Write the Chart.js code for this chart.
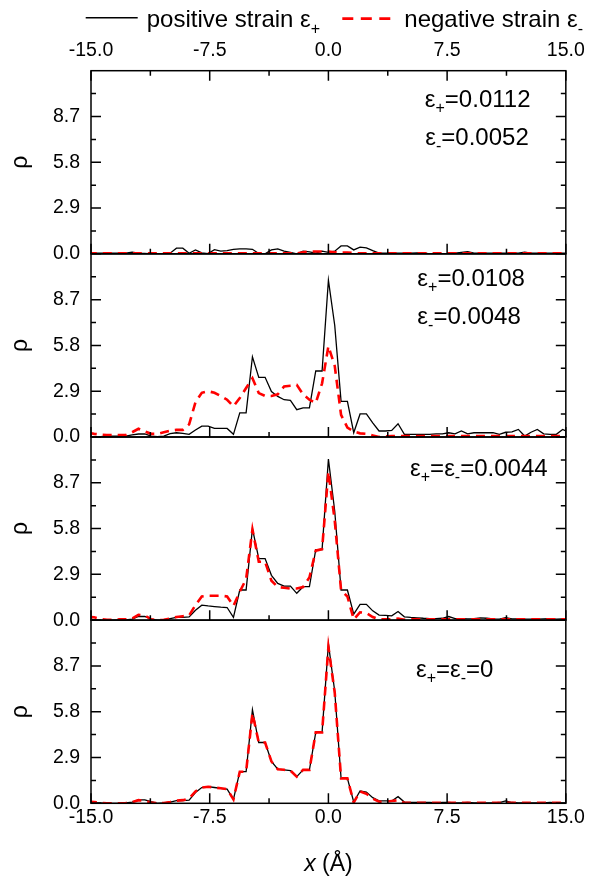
<!DOCTYPE html>
<html>
<head>
<meta charset="utf-8">
<style>
html,body{margin:0;padding:0;background:#fff;}
canvas{display:block;}
</style>
<script src="https://cdn.jsdelivr.net/npm/chart.js@4.4.1/dist/chart.umd.min.js"></script>
</head>
<body>
<canvas id="c" width="593" height="876" style="width:593px;height:876px"></canvas>
<script>
// ---------------- data ----------------
const X = [-15.2,-14.8,-14.4,-14.0,-13.6,-13.2,-12.8,-12.4,-12.0,-11.6,
           -11.2,-10.8,-10.4,-10.0,-9.6,-9.2,-8.8,-8.4,-8.0,-7.6,
           -7.2,-6.8,-6.4,-6.0,-5.6,-5.2,-4.8,-4.4,-4.0,-3.6,
           -3.2,-2.8,-2.4,-2.0,-1.6,-1.2,-0.8,-0.4,0.0,0.4,
           0.8,1.2,1.6,2.0,2.4,2.8,3.2,3.6,4.0,4.4,
           4.8,5.2,5.6,6.0,6.4,6.8,7.2,7.6,8.0,8.4,
           8.8,9.2,9.6,10.0,10.4,10.8,11.2,11.6,12.0,12.4,
           12.8,13.2,13.6,14.0,14.4,14.8,15.2];

// panel 1: eps+ = 0.0112, eps- = 0.0052
const pos1 = [0.04,0.04,0.04,0.04,0.04,0.04,0.04,0.10,0.04,0.03,
              0.00,0.02,0.02,0.04,0.36,0.36,0.04,0.25,0.06,0.02,
              0.27,0.17,0.20,0.29,0.32,0.32,0.29,0.02,0.00,0.25,
              0.32,0.17,0.10,0.00,0.17,0.12,0.05,0.17,0.10,0.17,
              0.50,0.50,0.25,0.42,0.38,0.20,0.04,0.04,0.04,0.04,
              0.04,0.04,0.06,0.06,0.00,0.02,0.02,0.02,0.04,0.10,
              0.14,0.04,0.04,0.04,0.04,0.04,0.04,0.04,0.04,0.10,
              0.04,0.04,0.04,0.04,0.04,0.04,0.04];
const neg1 = [0.03,0.03,0.03,0.03,0.03,0.03,0.03,0.03,0.03,0.03,
              0.03,0.03,0.03,0.03,0.03,0.03,0.03,0.03,0.03,0.03,
              0.03,0.03,0.03,0.03,0.03,0.03,0.03,0.03,0.03,0.03,
              0.03,0.03,0.03,0.03,0.10,0.15,0.15,0.15,0.15,0.10,
              0.08,0.08,0.06,0.03,0.03,0.03,0.03,0.03,0.03,0.03,
              0.03,0.03,0.03,0.03,0.03,0.03,0.03,0.03,0.03,0.03,
              0.03,0.03,0.03,0.03,0.03,0.03,0.03,0.03,0.03,0.03,
              0.03,0.03,0.03,0.03,0.03,0.03,0.03];

// panel 2: eps+ = 0.0108, eps- = 0.0048
const pos2 = [0.03,0.03,0.03,0.05,0.05,0.06,0.06,0.13,0.19,0.19,
              0.06,0.02,0.06,0.21,0.27,0.23,0.17,0.44,0.69,0.69,
              0.54,0.54,0.54,0.17,1.53,1.53,5.08,3.78,3.78,2.88,
              2.57,2.36,2.32,1.73,1.84,1.84,4.18,4.18,9.93,7.06,
              2.26,2.26,0.27,1.46,1.46,0.90,0.38,0.38,0.42,0.84,
              0.17,0.17,0.17,0.17,0.17,0.20,0.20,0.27,0.20,0.38,
              0.20,0.27,0.27,0.27,0.27,0.17,0.30,0.33,0.48,0.06,
              0.30,0.48,0.20,0.17,0.17,0.48,0.30];
const neg2 = [0.27,0.20,0.15,0.13,0.13,0.13,0.13,0.30,0.52,0.35,
              0.20,0.20,0.30,0.40,0.45,0.45,0.80,2.20,2.80,2.90,
              2.80,2.60,2.36,1.94,2.47,3.10,3.72,2.78,2.60,2.60,
              2.70,3.20,3.25,3.30,2.70,2.36,2.15,3.40,5.75,4.50,
              1.40,0.60,0.35,0.23,0.20,0.10,0.00,0.05,0.06,0.06,
              0.06,0.06,0.06,0.06,0.06,0.06,0.06,0.06,0.06,0.06,
              0.06,0.06,0.06,0.06,0.06,0.06,0.06,0.06,0.06,0.06,
              0.06,0.06,0.06,0.06,0.06,0.06,0.06];

// panel 3: eps+ = eps- = 0.0044
const pos3 = [0.05,0.03,0.00,0.00,0.00,0.02,0.02,0.06,0.23,0.23,
              0.06,0.00,0.00,0.10,0.17,0.17,0.21,0.63,0.95,0.90,
              0.86,0.82,0.80,0.17,1.91,1.91,5.80,3.90,3.90,2.84,
              2.33,2.16,2.16,1.70,2.12,2.12,4.47,4.47,10.20,6.90,
              1.91,1.91,0.38,1.00,1.00,0.59,0.32,0.30,0.27,0.55,
              0.21,0.17,0.15,0.12,0.10,0.10,0.12,0.23,0.10,0.10,
              0.08,0.10,0.15,0.12,0.08,0.06,0.15,0.08,0.08,0.06,
              0.06,0.06,0.08,0.10,0.06,0.08,0.08];
const neg3 = [0.20,0.18,0.08,0.02,0.02,0.05,0.05,0.10,0.34,0.30,
              0.05,0.00,0.02,0.10,0.20,0.25,0.30,0.95,1.50,1.55,
              1.55,1.55,1.50,0.90,1.80,2.60,5.75,3.70,3.70,2.50,
              2.10,2.05,2.00,2.00,2.10,2.70,4.40,4.50,9.40,6.30,
              1.90,1.50,0.05,0.50,0.45,0.20,0.05,0.05,0.05,0.10,
              0.03,0.05,0.05,0.05,0.05,0.05,0.05,0.05,0.05,0.05,
              0.05,0.05,0.05,0.05,0.05,0.05,0.05,0.05,0.05,0.05,
              0.05,0.05,0.05,0.05,0.05,0.05,0.05];

// panel 4: eps+ = eps- = 0
const pos4 = [0.05,0.03,0.02,0.00,0.00,0.00,0.02,0.08,0.22,0.22,
              0.10,0.00,0.02,0.08,0.17,0.17,0.20,0.68,1.00,1.05,
              1.00,0.95,0.90,0.25,2.00,2.00,5.93,3.85,3.85,2.65,
              2.16,2.12,2.07,1.69,2.12,2.12,4.49,4.49,10.10,7.08,
              1.58,1.58,0.08,0.78,0.71,0.36,0.15,0.15,0.15,0.42,
              0.08,0.05,0.05,0.05,0.05,0.03,0.05,0.05,0.03,0.03,
              0.05,0.03,0.03,0.03,0.03,0.05,0.15,0.05,0.03,0.03,
              0.03,0.03,0.03,0.05,0.03,0.03,0.03];
const neg4 = [0.10,0.08,0.03,0.00,0.00,0.00,0.02,0.08,0.20,0.15,
              0.05,0.00,0.02,0.08,0.17,0.20,0.30,0.75,1.00,1.05,
              1.00,0.95,0.90,0.25,2.00,2.00,5.70,3.85,3.85,2.65,
              2.16,2.12,2.07,1.69,2.12,2.12,4.49,4.49,9.90,7.00,
              1.58,1.58,0.05,0.75,0.60,0.30,0.10,0.10,0.15,0.20,
              0.03,0.03,0.03,0.03,0.03,0.03,0.03,0.03,0.03,0.03,
              0.03,0.03,0.03,0.03,0.03,0.03,0.03,0.03,0.03,0.03,
              0.03,0.03,0.03,0.03,0.03,0.03,0.03];

const xTickLabels = [-15, -7.5, 0, 7.5, 15];
const xMinorTicks = [-15, -11.25, -7.5, -3.75, 0, 3.75, 7.5, 11.25, 15];
const yTickLabels = [0, 2.9, 5.8, 8.7];
const yMinorTicks = [0, 1.45, 2.9, 4.35, 5.8, 7.25, 8.7, 10.15];
const xRange = [-15, 15];
const yRange = [0, 11.6];

const panelIds = ['p1', 'p2', 'p3', 'p4'];
const posSeries = [pos1, pos2, pos3, pos4];
const negSeries = [neg1, neg2, neg3, neg4];
const legendTexts = ['positive strain \u03b5', 'negative strain \u03b5'];
const legendSubs = ['+', '-'];
// annotation lines: [panel, x (Å), y (ρ), text parts ([text, isSub])]
const panelNotes = [
  ['p1', 6.09, 9.28, [['\u03b5',0],['+',1],['=0.0112',0]]],
  ['p1', 6.12, 6.89, [['\u03b5',0],['-',1],['=0.0052',0]]],
  ['p2', 5.62, 9.56, [['\u03b5',0],['+',1],['=0.0108',0]]],
  ['p2', 5.62, 7.16, [['\u03b5',0],['-',1],['=0.0048',0]]],
  ['p3', 5.16, 9.13, [['\u03b5',0],['+',1],['=\u03b5',0],['-',1],['=0.0044',0]]],
  ['p4', 5.53, 8.02, [['\u03b5',0],['+',1],['=\u03b5',0],['-',1],['=0',0]]]
];

// ---------------- chart ----------------
const FONT = "'Liberation Sans', Arial, Helvetica, sans-serif";
const TICK_FONT = 19.5;
const MAJOR = 10, MINOR = 5;

function points(ys) { return X.map((x, i) => ({ x: x, y: ys[i] })); }

const datasets = [];
panelIds.forEach((id, k) => {
  datasets.push({
    label: 'positive strain', data: points(posSeries[k]), xAxisID: 'x', yAxisID: id,
    borderColor: '#000000', borderWidth: 1.3, pointRadius: 0, tension: 0, fill: false, order: 2
  });
  datasets.push({
    label: 'negative strain', data: points(negSeries[k]), xAxisID: 'x', yAxisID: id,
    borderColor: '#ff0000', borderWidth: 2.6, borderDash: [9, 6], pointRadius: 0, tension: 0, fill: false, order: 1
  });
});

function xAxis(position, height, pad) {
  return {
    type: 'linear', position: position, min: xRange[0], max: xRange[1],
    afterBuildTicks: s => { s.ticks = xTickLabels.map(v => ({ value: v })); },
    afterFit: s => { s.height = height; },
    ticks: { callback: v => Number(v).toFixed(1), font: { family: FONT, size: TICK_FONT }, color: '#000',
             padding: pad, maxRotation: 0, minRotation: 0, autoSkip: false },
    grid: { display: false, drawTicks: false },
    border: { display: false }
  };
}
function yAxis() {
  return {
    type: 'linear', position: 'left', stack: 'panels', stackWeight: 1,
    min: yRange[0], max: yRange[1],
    afterBuildTicks: s => { s.ticks = yTickLabels.map(v => ({ value: v })); },
    afterFit: s => { s.width = 91; },
    ticks: { callback: v => Number(v).toFixed(1), font: { family: FONT, size: TICK_FONT }, color: '#000',
             padding: 11, autoSkip: false },
    grid: { display: false, drawTicks: false },
    border: { display: false },
    title: { display: true, text: '\u03c1', color: '#000', font: { family: FONT, size: 23 },
             padding: { top: 6.5, bottom: 0 } }
  };
}

const scales = { x: xAxis('bottom', 72.7, 3), xTop: xAxis('top', 70.7, 8.2) };
panelIds.slice().reverse().forEach(id => { scales[id] = yAxis(); });

function drawRich(ctx, x, y, parts, size, subSize, subShift) {
  let cx = x;
  parts.forEach(p => {
    ctx.font = (p[1] ? subSize : size) + 'px ' + FONT;
    ctx.fillText(p[0], cx, p[1] ? y + subShift : y);
    cx += ctx.measureText(p[0]).width;
  });
  return cx;
}

const decor = {
  id: 'decor',
  afterDraw(chart) {
    const ctx = chart.ctx, ca = chart.chartArea, xs = chart.scales.x;
    ctx.save();
    ctx.strokeStyle = '#000';
    ctx.lineWidth = 1.5;
    ctx.lineCap = 'butt';
    panelIds.forEach((id, k) => {
      const s = chart.scales[id];
      ctx.strokeRect(ca.left, s.top, ca.right - ca.left, s.bottom - s.top);
      ctx.beginPath();
      xMinorTicks.forEach(v => {
        const px = xs.getPixelForValue(v);
        const len = xTickLabels.includes(v) ? MAJOR : MINOR;
        ctx.moveTo(px, s.bottom); ctx.lineTo(px, s.bottom - len);
        if (k === 0) { ctx.moveTo(px, s.top); ctx.lineTo(px, s.top + len); }
      });
      yMinorTicks.forEach(v => {
        const py = s.getPixelForValue(v);
        const len = yTickLabels.includes(v) ? MAJOR : MINOR;
        ctx.moveTo(ca.left, py); ctx.lineTo(ca.left + len, py);
        ctx.moveTo(ca.right, py); ctx.lineTo(ca.right - len, py);
      });
      ctx.stroke();
    });

    // annotations
    ctx.fillStyle = '#000';
    ctx.textBaseline = 'alphabetic';
    ctx.textAlign = 'left';
    panelNotes.forEach(n => {
      const s = chart.scales[n[0]];
      drawRich(ctx, xs.getPixelForValue(n[1]), s.getPixelForValue(n[2]), n[3], 24, 16, 6);
    });

    // legend
    ctx.beginPath();
    ctx.lineWidth = 1.6;
    ctx.strokeStyle = '#000';
    ctx.moveTo(85.7, 17.7); ctx.lineTo(137.7, 17.7);
    ctx.stroke();
    drawRich(ctx, 146.7, 26.7, [[legendTexts[0], 0], [legendSubs[0], 1]], 24, 16, 7);
    ctx.beginPath();
    ctx.lineWidth = 2.7;
    ctx.strokeStyle = '#ff0000';
    ctx.setLineDash([11, 7.5]);
    ctx.moveTo(342.3, 18.7); ctx.lineTo(391.7, 18.7);
    ctx.stroke();
    ctx.setLineDash([]);
    drawRich(ctx, 404.3, 26.7, [[legendTexts[1], 0], [legendSubs[1], 1]], 24, 16, 7);

    // x title
    ctx.font = 'italic 23px ' + FONT;
    const w1 = ctx.measureText('x').width;
    ctx.font = '23px ' + FONT;
    const w2 = ctx.measureText(' (\u00c5)').width;
    const cx = (ca.left + ca.right) / 2 - (w1 + w2) / 2;
    ctx.font = 'italic 23px ' + FONT;
    ctx.fillText('x', cx, 870.5);
    ctx.font = '23px ' + FONT;
    ctx.fillText(' (\u00c5)', cx + w1, 870.5);
    ctx.restore();
  }
};

new Chart(document.getElementById('c'), {
  type: 'line',
  data: { datasets: datasets },
  options: {
    responsive: false,
    animation: false,
    events: [],
    layout: { padding: { left: 0, right: 22.3, top: 0, bottom: 0 } },
    plugins: { legend: { display: false }, tooltip: { enabled: false }, title: { display: false } },
    scales: scales
  },
  plugins: [decor]
});
</script>
</body>
</html>
